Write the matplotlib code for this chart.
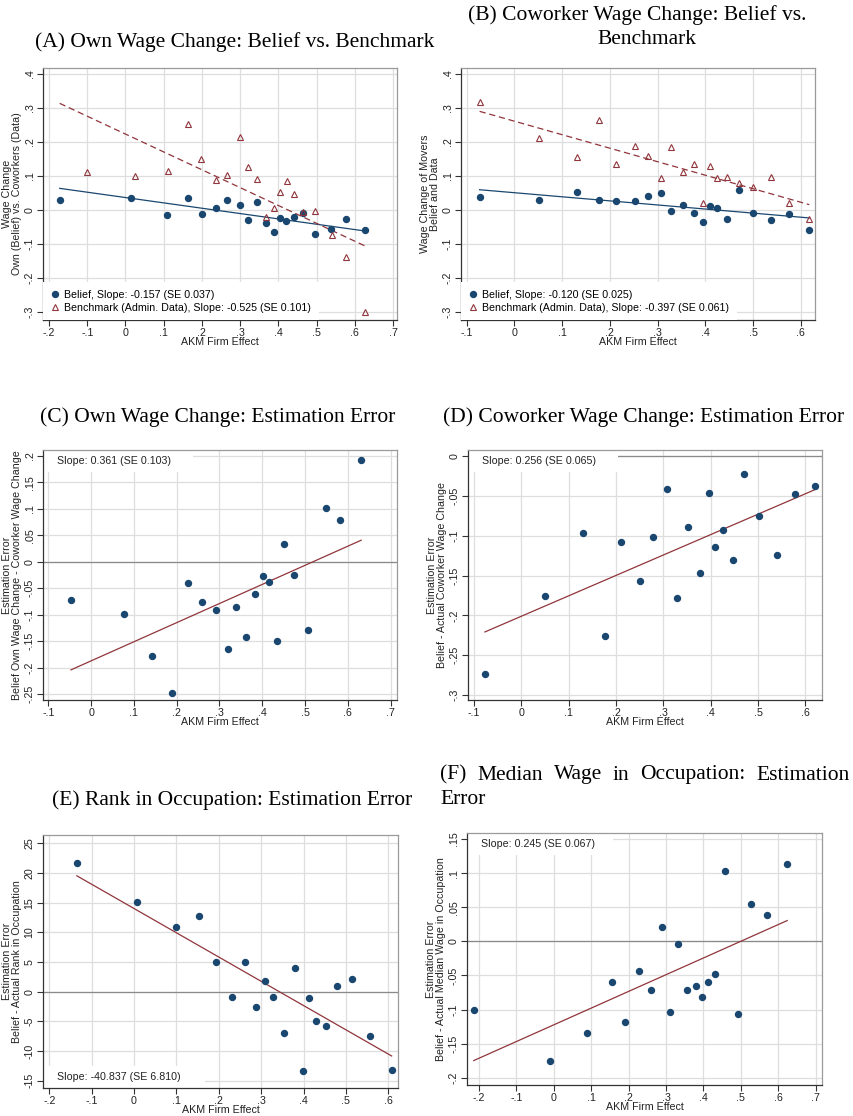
import numpy as np
import matplotlib.pyplot as plt
from matplotlib.lines import Line2D
from matplotlib.patches import Rectangle

# ---- binned scatter data (AKM firm effect bins) ----
# (A) own wage change: belief vs benchmark
a_bel_x = [-0.172, 0.015, 0.110, 0.164, 0.200, 0.238, 0.267, 0.299, 0.321, 0.343,
           0.367, 0.389, 0.404, 0.421, 0.442, 0.465, 0.497, 0.537, 0.576, 0.627]
a_bel_y = [0.029, 0.034, -0.015, 0.035, -0.013, 0.005, 0.029, 0.015, -0.030, 0.023,
           -0.037, -0.064, -0.023, -0.032, -0.022, -0.010, -0.072, -0.055, -0.026, -0.060]
a_ben_x = [-0.101, 0.024, 0.111, 0.164, 0.198, 0.237, 0.266, 0.301, 0.321, 0.343,
           0.368, 0.389, 0.404, 0.422, 0.442, 0.464, 0.497, 0.540, 0.576, 0.626]
a_ben_y = [0.111, 0.100, 0.115, 0.253, 0.149, 0.089, 0.103, 0.216, 0.127, 0.091,
           -0.022, 0.006, 0.053, 0.085, 0.048, -0.007, -0.002, -0.073, -0.137, -0.299]
a_slopes = [-0.157, -0.525]
a_se = [0.037, 0.101]

# (B) coworker wage change: belief vs benchmark
b_x = [-0.073, 0.052, 0.131, 0.178, 0.212, 0.252, 0.279, 0.307, 0.328, 0.353,
       0.377, 0.395, 0.409, 0.425, 0.446, 0.470, 0.500, 0.537, 0.576, 0.618]
b_bel_y = [0.039, 0.028, 0.053, 0.028, 0.026, 0.026, 0.041, 0.051, -0.002, 0.015,
           -0.009, -0.035, 0.013, 0.006, -0.026, 0.058, -0.010, -0.029, -0.011, -0.058]
b_ben_y = [0.317, 0.211, 0.157, 0.265, 0.135, 0.187, 0.159, 0.093, 0.184, 0.111,
           0.136, 0.020, 0.129, 0.094, 0.096, 0.080, 0.067, 0.097, 0.022, -0.026]
b_slopes = [-0.120, -0.397]
b_se = [0.025, 0.061]

# (C) own wage change estimation error
c_x = [-0.047, 0.078, 0.143, 0.189, 0.227, 0.260, 0.291, 0.320, 0.338, 0.361,
       0.384, 0.402, 0.416, 0.434, 0.451, 0.475, 0.507, 0.550, 0.582, 0.631]
c_y = [-0.072, -0.098, -0.178, -0.249, -0.040, -0.077, -0.091, -0.165, -0.085, -0.143,
       -0.062, -0.028, -0.038, -0.149, 0.034, -0.026, -0.129, 0.101, 0.079, 0.192]

# (D) coworker wage change estimation error
d_x = [-0.077, 0.049, 0.130, 0.177, 0.211, 0.251, 0.279, 0.307, 0.328, 0.352,
       0.377, 0.396, 0.410, 0.426, 0.447, 0.470, 0.501, 0.539, 0.577, 0.620]
d_y = [-0.274, -0.175, -0.097, -0.226, -0.108, -0.157, -0.102, -0.041, -0.178, -0.089,
       -0.147, -0.047, -0.114, -0.093, -0.131, -0.022, -0.075, -0.124, -0.048, -0.038]

# (E) rank in occupation estimation error
e_x = [-0.135, 0.006, 0.098, 0.154, 0.193, 0.231, 0.262, 0.288, 0.310, 0.329,
       0.355, 0.381, 0.398, 0.413, 0.430, 0.453, 0.480, 0.515, 0.556, 0.608]
e_y = [21.65, 15.14, 10.88, 12.68, 5.05, -0.90, 5.10, -2.64, 1.74, -0.90,
       -6.95, 3.98, -13.40, -1.01, -4.94, -5.78, 0.90, 2.13, -7.40, -13.24]

# (F) median wage in occupation estimation error
f_x = [-0.214, -0.010, 0.088, 0.155, 0.191, 0.229, 0.261, 0.288, 0.312, 0.332,
       0.355, 0.379, 0.395, 0.411, 0.430, 0.457, 0.493, 0.526, 0.569, 0.624]
f_y = [-0.101, -0.176, -0.134, -0.060, -0.118, -0.044, -0.072, 0.0215, -0.103, -0.0034,
       -0.072, -0.066, -0.081, -0.060, -0.048, 0.103, -0.106, 0.054, 0.039, 0.114]

err_slopes = {"C": (0.361, 0.103), "D": (0.256, 0.065), "E": (-40.837, 6.810), "F": (0.245, 0.067)}

NAVY = "#1a476f"
MAROON = "#90353b"
GRID = "#dedede"
SANS = "Liberation Sans"
SERIF = "Liberation Serif"
FS = 7.7

W, H = 854, 1116
fig = plt.figure(figsize=(W / 100, H / 100), dpi=100)
fig.patch.set_facecolor("white")


def add_ax(l, t, r, b):
    return fig.add_axes([l / W, 1 - b / H, (r - l) / W, (b - t) / H])


def stata_fmt(v):
    if abs(v) < 1e-9:
        return "0"
    s = f"{v:g}"
    if s.startswith("0.") or s.startswith("-0."):
        s = s.replace("0.", ".", 1)
    return s


def style(ax, xticks, yticks, xlim, ylim, ylabel):
    ax.set_xlim(*xlim)
    ax.set_ylim(*ylim)
    ax.set_xticks(xticks)
    ax.set_yticks(yticks)
    ax.set_xticklabels([stata_fmt(round(v, 3)) for v in xticks], fontfamily=SANS, fontsize=FS)
    ax.set_yticklabels([stata_fmt(round(v, 3)) for v in yticks], fontfamily=SANS, fontsize=FS,
                       rotation=90, va="center")
    ax.tick_params(length=4, width=0.8, color="#333333", pad=2, labelcolor="#222222")
    ax.grid(True, color=GRID, lw=0.9)
    ax.set_axisbelow(True)
    for side in ("left", "bottom"):
        ax.spines[side].set_color("#333333")
        ax.spines[side].set_linewidth(0.9)
    for side in ("top", "right"):
        ax.spines[side].set_color("#9a9a9a")
        ax.spines[side].set_linewidth(0.9)
    ax.set_xlabel("AKM Firm Effect", fontfamily=SANS, fontsize=FS, color="#222222", va="center")
    ax.xaxis.set_label_coords(0.5, -22 / 252)
    ax.set_ylabel(ylabel, fontfamily=SANS, fontsize=FS, color="#222222", va="center",
                  linespacing=1.05)
    ax.yaxis.set_label_coords(-0.088, 0.5)


def fit_line(ax, x, y, slope, xr, **kw):
    x = np.asarray(x)
    y = np.asarray(y)
    xs = np.array(xr)
    ys = y.mean() + slope * (xs - x.mean())
    ax.plot(xs, ys, **kw)


def slope_box(ax, text, top, width, height):
    y0 = 1 - height if top else 0
    ax.add_patch(Rectangle((0, y0), width, height, transform=ax.transAxes,
                           facecolor="white", edgecolor="none", zorder=2))
    ax.text(0.04, y0 + height / 2, text, transform=ax.transAxes, fontfamily=SANS,
            fontsize=FS, color="#222222", va="center", ha="left", zorder=3)


def dots(ax, x, y):
    ax.plot(x, y, "o", color=NAVY, ms=4.3, mec=NAVY, zorder=4, clip_on=False)


def tris(ax, x, y):
    ax.plot(x, y, "^", mfc="none", mec=MAROON, ms=4.6, mew=0.8, zorder=4, clip_on=False)


def two_series_legend(ax, slopes, ses):
    handles = [
        Line2D([], [], ls="none", marker="o", color=NAVY, ms=4.3),
        Line2D([], [], ls="none", marker="^", mfc="none", mec=MAROON, ms=4.6, mew=0.8),
    ]
    labels = [f"Belief, Slope: {slopes[0]:.3f} (SE {ses[0]:.3f})",
              f"Benchmark (Admin. Data), Slope: {slopes[1]:.3f} (SE {ses[1]:.3f})"]
    leg = ax.legend(handles, labels, loc="lower left", frameon=True, fancybox=False,
                    facecolor="white", edgecolor="none", framealpha=1,
                    prop={"family": SANS, "size": FS}, handlelength=0.8,
                    handletextpad=0.5, labelspacing=0.25, borderaxespad=0.0,
                    borderpad=0.7)
    leg.set_zorder(3)


y_ab = np.round(np.arange(-0.3, 0.41, 0.1), 2)

# ---- (A) ----
ax = add_ax(43, 68, 397, 320)
style(ax, np.round(np.arange(-0.2, 0.71, 0.1), 2), y_ab, (-0.2157, 0.7105), (-0.3235, 0.4176),
      "Wage Change\nOwn (Belief) vs. Coworkers (Data)")
xr = (min(a_bel_x + a_ben_x), max(a_bel_x + a_ben_x))
fit_line(ax, a_bel_x, a_bel_y, a_slopes[0], xr, color=NAVY, lw=0.9, zorder=3)
fit_line(ax, a_ben_x, a_ben_y, a_slopes[1], xr, color=MAROON, lw=0.9, ls=(0, (5, 3)), zorder=3)
dots(ax, a_bel_x, a_bel_y)
tris(ax, a_ben_x, a_ben_y)
two_series_legend(ax, a_slopes, a_se)

# ---- (B) ----
ax = add_ax(461, 68, 815, 320)
style(ax, np.round(np.arange(-0.1, 0.61, 0.1), 2), y_ab, (-0.112, 0.630), (-0.3235, 0.4176),
      "Wage Change of Movers\nBelief and Data")
xr = (min(b_x), max(b_x))
fit_line(ax, b_x, b_bel_y, b_slopes[0], xr, color=NAVY, lw=0.9, zorder=3)
fit_line(ax, b_x, b_ben_y, b_slopes[1], xr, color=MAROON, lw=0.9, ls=(0, (5, 3)), zorder=3)
dots(ax, b_x, b_bel_y)
tris(ax, b_x, b_ben_y)
two_series_legend(ax, b_slopes, b_se)

# ---- estimation error panels ----
panels = [
    ("C", (43, 450, 397, 700), c_x, c_y, np.round(np.arange(-0.1, 0.71, 0.1), 2),
     np.round(np.arange(-0.25, 0.21, 0.05), 2), (-0.1124, 0.7148), (-0.2613, 0.2108),
     "Estimation Error\nBelief Own Wage Change - Coworker Wage Change", True, 0.424),
    ("D", (468, 450, 822, 700), d_x, d_y, np.round(np.arange(-0.1, 0.61, 0.1), 2),
     np.round(np.arange(-0.3, 0.01, 0.05), 2), (-0.1127, 0.635), (-0.306, 0.0075),
     "Estimation Error\nBelief - Actual Coworker Wage Change", True, 0.424),
    ("E", (43, 835, 398, 1088), e_x, e_y, np.round(np.arange(-0.2, 0.61, 0.1), 2),
     np.arange(-15, 26, 5), (-0.2149, 0.623), (-16.2, 26.4),
     "Estimation Error\nBelief - Actual Rank in Occupation", False, 0.456),
    ("F", (467, 833, 822, 1085), f_x, f_y, np.round(np.arange(-0.2, 0.71, 0.1), 2),
     np.round(np.arange(-0.2, 0.16, 0.05), 2), (-0.232, 0.717), (-0.2107, 0.1588),
     "Estimation Error\nBelief - Actual Median Wage in Occupation", True, 0.41),
]

for key, box, px, py, xt, yt, xl, yl, ylab, top, bw in panels:
    ax = add_ax(*box)
    style(ax, xt, yt, xl, yl, ylab)
    ax.axhline(0, color="#8a8a8a", lw=0.9, zorder=1)
    slope, se = err_slopes[key]
    fit_line(ax, px, py, slope, (min(px), max(px)), color=MAROON, lw=0.9, zorder=3)
    dots(ax, px, py)
    bh = 22 / (box[3] - box[1])
    slope_box(ax, f"Slope: {slope:.3f} (SE {se:.3f})", top, bw, bh)

# ---- panel titles ----
TFS = 15.5


def title(x, y, s, ha="center"):
    return fig.text(x / W, 1 - y / H, s, fontfamily=SERIF, fontsize=TFS, ha=ha, va="center",
                    color="black")


def justified(words, x0, x1, y):
    r = fig.canvas.get_renderer()
    texts = [title(0, y, w, ha="left") for w in words]
    widths = [t.get_window_extent(r).width for t in texts]
    gap = (x1 - x0 - sum(widths)) / (len(words) - 1)
    x = x0
    for t, w in zip(texts, widths):
        t.set_x(x / W)
        x += w + gap


title(235, 42, "(A) Own Wage Change: Belief vs. Benchmark")
title(637, 15, "(B) Coworker Wage Change: Belief vs.")
title(647, 40, "Benchmark")
title(218, 417, "(C) Own Wage Change: Estimation Error")
title(644, 417, "(D) Coworker Wage Change: Estimation Error")
title(232, 800, "(E) Rank in Occupation: Estimation Error")
justified(["(F)", "Median", "Wage", "in", "Occupation:", "Estimation"], 440, 850, 775)
title(440, 800, "Error", ha="left")

fig.savefig("out.png", dpi=100, facecolor="white")
